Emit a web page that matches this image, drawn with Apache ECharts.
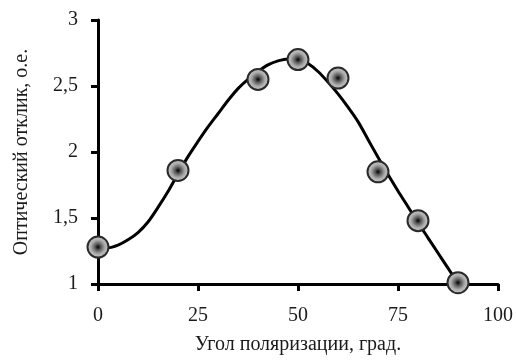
<!DOCTYPE html>
<html>
<head>
<meta charset="utf-8">
<script src="https://cdn.jsdelivr.net/npm/echarts@6/dist/echarts.min.js"></script>
<style>html,body{margin:0;padding:0;background:#fff;}#c{width:516px;height:360px;}</style>
</head>
<body>
<div id="c"></div>
<script>
const pointX = [0, 20, 40, 50, 60, 70, 80, 90];
const pointY = [1.28, 1.86, 2.55, 2.70, 2.56, 1.85, 1.48, 1.01];
const curveX = [0, 2.5, 5, 7.5, 10, 12.5, 15, 17.5, 20, 22.5, 25, 27.5, 30, 32.5, 35, 37.5, 40, 42.5, 45, 47.5, 50, 52.5, 55, 57.5, 60, 62.5, 65, 67.5, 70, 72.5, 75, 77.5, 80, 82.5, 85, 87.5, 90];
const curveY = [1.28, 1.275, 1.295, 1.335, 1.39, 1.47, 1.58, 1.70, 1.835, 1.965, 2.08, 2.19, 2.29, 2.39, 2.48, 2.55, 2.61, 2.66, 2.69, 2.705, 2.705, 2.67, 2.61, 2.53, 2.44, 2.34, 2.23, 2.095, 1.96, 1.83, 1.705, 1.585, 1.465, 1.35, 1.235, 1.12, 1.005];
const xTicks = [0, 25, 50, 75, 100];
const yTicks = [1, 1.5, 2, 2.5, 3];
const xTitle = 'Угол поляризации, град.';
const yTitle = 'Оптический отклик, о.е.';

const font = '"Liberation Serif", "Times New Roman", serif';
const chart = echarts.init(document.getElementById('c'), null, {renderer: 'canvas'});
chart.setOption({
  animation: false,
  backgroundColor: '#fff',
  grid: {left: 98, right: 14, top: 20, bottom: 72, containLabel: false},
  xAxis: {
    type: 'value', min: xTicks[0], max: xTicks[xTicks.length - 1], interval: 25,
    name: xTitle, nameLocation: 'middle', nameGap: 51,
    nameTextStyle: {fontFamily: font, fontSize: 20, color: '#1a1a1a'},
    axisLine: {show: true, onZero: false, lineStyle: {color: '#000', width: 3}},
    axisTick: {show: true, length: 7, lineStyle: {color: '#000', width: 3}},
    axisLabel: {fontFamily: font, fontSize: 20, color: '#1a1a1a', margin: 22,
      formatter: v => String(v)},
    splitLine: {show: false}
  },
  yAxis: {
    type: 'value', min: yTicks[0], max: yTicks[yTicks.length - 1], interval: 0.5,
    name: yTitle, nameLocation: 'middle', nameGap: 66, nameRotate: 90,
    nameTextStyle: {fontFamily: font, fontSize: 20, color: '#1a1a1a'},
    axisLine: {show: true, onZero: false, lineStyle: {color: '#000', width: 3}},
    axisTick: {show: true, length: 7, lineStyle: {color: '#000', width: 3}},
    axisLabel: {fontFamily: font, fontSize: 20, color: '#1a1a1a', margin: 20,
      formatter: v => String(v).replace('.', ',')},
    splitLine: {show: false}
  },
  series: [
    {
      type: 'line', data: curveX.map((x, i) => [x, curveY[i]]),
      smooth: 0.3, showSymbol: false, clip: false, z: 2,
      lineStyle: {color: '#000', width: 3}
    },
    {
      type: 'scatter', data: pointX.map((x, i) => [x, pointY[i]]),
      symbol: 'circle', symbolSize: 21, clip: false, z: 3,
      itemStyle: {
        color: {type: 'radial', x: 0.5, y: 0.5, r: 0.5, colorStops: [
          {offset: 0, color: '#000'},
          {offset: 0.25, color: '#555'},
          {offset: 0.6, color: '#aaa'},
          {offset: 1, color: '#cfcfcf'}
        ]},
        borderColor: '#2a2a2a', borderWidth: 2, opacity: 1
      }
    }
  ]
});
</script>
</body>
</html>
